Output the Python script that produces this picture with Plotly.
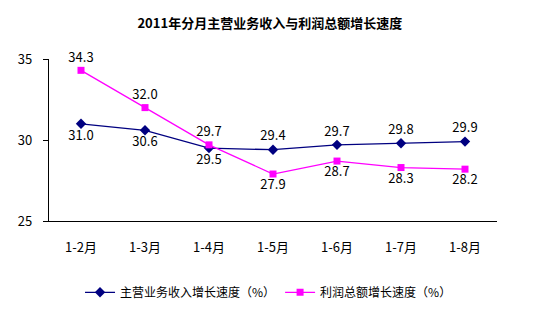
import plotly.graph_objects as go

categories = ["1-2月", "1-3月", "1-4月", "1-5月", "1-6月", "1-7月", "1-8月"]
revenue_growth = [31.0, 30.6, 29.5, 29.4, 29.7, 29.8, 29.9]
profit_growth = [34.3, 32.0, 29.7, 27.9, 28.7, 28.3, 28.2]
revenue_label_pos = ["bottom center", "bottom center", "bottom center",
                     "top center", "top center", "top center", "top center"]
profit_label_pos = ["top center", "top center", "top center",
                    "bottom center", "bottom center", "bottom center", "bottom center"]
y_ticks = [25, 30, 35]

FONT = "Noto Sans CJK SC"

fig = go.Figure()
fig.add_trace(go.Scatter(
    x=categories, y=revenue_growth, name="主营业务收入增长速度（%）",
    mode="lines+markers+text",
    line=dict(color="#000080", width=1.3),
    marker=dict(symbol="diamond", size=8, color="#000080"),
    text=[f"{v:.1f}" for v in revenue_growth],
    textposition=revenue_label_pos,
    textfont=dict(family=FONT, size=13, color="#000000"),
    cliponaxis=False,
))
fig.add_trace(go.Scatter(
    x=categories, y=profit_growth, name="利润总额增长速度（%）",
    mode="lines+markers+text",
    line=dict(color="#FF00FF", width=1.3),
    marker=dict(symbol="square", size=7, color="#FF00FF"),
    text=[f"{v:.1f}" for v in profit_growth],
    textposition=profit_label_pos,
    textfont=dict(family=FONT, size=13, color="#000000"),
    cliponaxis=False,
))

fig.update_layout(
    width=554, height=333,
    margin=dict(l=49, r=57, t=59, b=112, autoexpand=False),
    paper_bgcolor="white", plot_bgcolor="white",
    font=dict(family=FONT, size=12, color="#000000"),
    title=dict(text="<b>2011年分月主营业务收入与利润总额增长速度</b>",
               x=0.487, xanchor="center", y=0.93, yanchor="middle",
               font=dict(family=FONT, size=13, color="#000000")),
    showlegend=True,
    legend=dict(orientation="h", x=0.49, xanchor="center", y=-0.44, yanchor="middle",
                font=dict(family=FONT, size=12), itemwidth=30, tracegroupgap=0,
                bgcolor="rgba(0,0,0,0)"),
    xaxis=dict(type="category", range=[-0.5, 6.5], showgrid=False,
               showline=True, linecolor="#000000", linewidth=1.3,
               ticks="", tickfont=dict(family=FONT, size=13), ticklabelstandoff=14),
    yaxis=dict(range=[25, 35], tickvals=y_ticks, showgrid=False,
               showline=True, linecolor="#000000", linewidth=1.3,
               ticks="outside", ticklen=5, tickcolor="#000000",
               tickfont=dict(family=FONT, size=13), ticklabelstandoff=8,
               zeroline=False),
)

fig.write_html("out.html")
